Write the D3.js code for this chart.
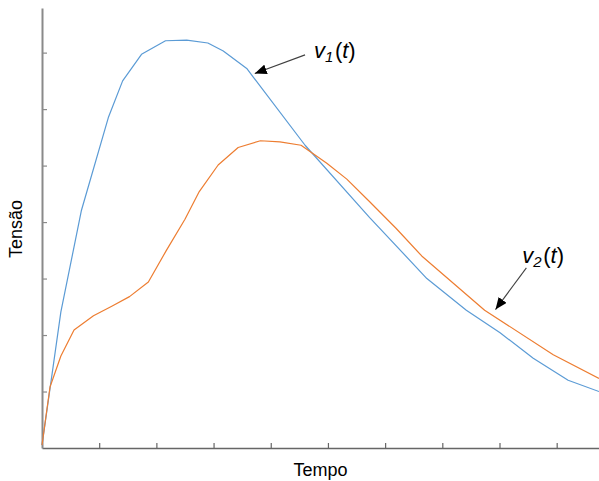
<!DOCTYPE html>
<html>
<head>
<meta charset="utf-8">
<script src="https://cdn.jsdelivr.net/npm/d3@7"></script>
<style>
  html, body { margin: 0; padding: 0; background: #fff; }
  svg { display: block; font-family: "Liberation Sans", Arial, sans-serif; }
</style>
</head>
<body>
<svg id="chart" width="599" height="481"></svg>
<script>
// v1(t): time (tick units) and voltage (tick units)
const v1Time = [0, 0.33, 0.69, 1.16, 1.41, 1.74, 2.16, 2.53, 2.90, 3.17, 3.58, 4.60, 5.73, 6.73, 7.42, 8.01, 8.59, 9.20, 9.74];
const v1Vals = [0.05, 2.41, 4.21, 5.85, 6.50, 6.97, 7.21, 7.22, 7.17, 7.03, 6.72, 5.36, 4.08, 3.00, 2.44, 2.04, 1.59, 1.20, 1.00];

// v2(t)
const v2Time = [0, 0.14, 0.33, 0.56, 0.90, 1.22, 1.53, 1.86, 2.17, 2.50, 2.75, 3.08, 3.43, 3.82, 4.16, 4.53, 4.98, 5.33, 5.73, 6.19, 6.64, 7.74, 8.94, 9.74];
const v2Vals = [0.05, 1.08, 1.63, 2.09, 2.34, 2.51, 2.68, 2.94, 3.49, 4.05, 4.54, 5.01, 5.32, 5.44, 5.42, 5.36, 5.04, 4.76, 4.36, 3.89, 3.40, 2.44, 1.65, 1.23];

// unlabeled tick positions
const xTicks = [1, 2, 3, 4, 5, 6, 7, 8, 9];
const yTicks = [1, 2, 3, 4, 5, 6, 7];

// annotation arrows: label, subscript, arrow tail (t0, v0) and tip (t1, v1)
const notes = [
  { label: "v", sub: "1", t0: 4.60, v0: 6.96, t1: 3.72, v1: 6.63, dx: 9, dy: 3 },
  { label: "v", sub: "2", t0: 8.47, v0: 3.19, t1: 7.93, v1: 2.45, dx: -4, dy: -5 }
];

const svg = d3.select("#chart");
const x = d3.scaleLinear().domain([0, 9.74]).range([42, 599]);
const y = d3.scaleLinear().domain([0, 7.79]).range([448, 8]);

// axes with inward ticks, no labels
const xAxis = svg.append("g")
  .attr("transform", `translate(0,${y(0)})`)
  .call(d3.axisBottom(x).tickValues(xTicks).tickSizeInner(-5).tickSizeOuter(0).tickFormat(""));
xAxis.select(".domain").attr("stroke", "#666").attr("stroke-width", 1.5);
xAxis.selectAll(".tick line").attr("stroke", "#666").attr("stroke-width", 1.2);

const yAxis = svg.append("g")
  .attr("transform", `translate(${x(0)},0)`)
  .call(d3.axisLeft(y).tickValues(yTicks).tickSizeInner(-5).tickSizeOuter(0).tickFormat(""));
yAxis.select(".domain").attr("stroke", "#8a8a8a").attr("stroke-width", 2);
yAxis.selectAll(".tick line").attr("stroke", "#8a8a8a").attr("stroke-width", 1.2);

// series
const line = d3.line().x(d => x(d[0])).y(d => y(d[1]));
const series = [
  { pts: d3.zip(v1Time, v1Vals), color: "#5B9BD5" },
  { pts: d3.zip(v2Time, v2Vals), color: "#ED7D31" }
];
svg.selectAll("path.series").data(series).join("path")
  .attr("class", "series")
  .attr("d", d => line(d.pts))
  .attr("fill", "none")
  .attr("stroke", d => d.color)
  .attr("stroke-width", 1.2)
  .attr("stroke-linejoin", "round");

// axis titles
svg.append("text")
  .attr("x", x(4.87)).attr("y", 476)
  .attr("text-anchor", "middle")
  .attr("font-size", 18)
  .attr("fill", "#000")
  .text("Tempo");
svg.append("text")
  .attr("transform", `translate(22,229) rotate(-90)`)
  .attr("text-anchor", "middle")
  .attr("font-size", 18)
  .attr("fill", "#000")
  .text("Tensão");

// arrowhead
svg.append("defs").append("marker")
  .attr("id", "head")
  .attr("viewBox", "0 0 12 10")
  .attr("refX", 12).attr("refY", 5)
  .attr("markerWidth", 12).attr("markerHeight", 10)
  .attr("markerUnits", "userSpaceOnUse")
  .attr("orient", "auto")
  .append("path").attr("d", "M0,0 L12,5 L0,10 Z").attr("fill", "#000");

notes.forEach(n => {
  svg.append("line")
    .attr("x1", x(n.t0)).attr("y1", y(n.v0))
    .attr("x2", x(n.t1)).attr("y2", y(n.v1))
    .attr("stroke", "#404040").attr("stroke-width", 1.1)
    .attr("marker-end", "url(#head)");
  const t = svg.append("text")
    .attr("x", x(n.t0) + n.dx).attr("y", y(n.v0) + n.dy)
    .attr("font-size", 22).attr("fill", "#000");
  t.append("tspan").attr("font-style", "italic").text(n.label);
  t.append("tspan").attr("font-style", "italic").attr("font-size", 15).attr("dy", 4).text(n.sub);
  t.append("tspan").attr("dy", -4).attr("dx", 1.5).text("(");
  t.append("tspan").attr("font-style", "italic").text("t");
  t.append("tspan").text(")");
});
</script>
</body>
</html>
